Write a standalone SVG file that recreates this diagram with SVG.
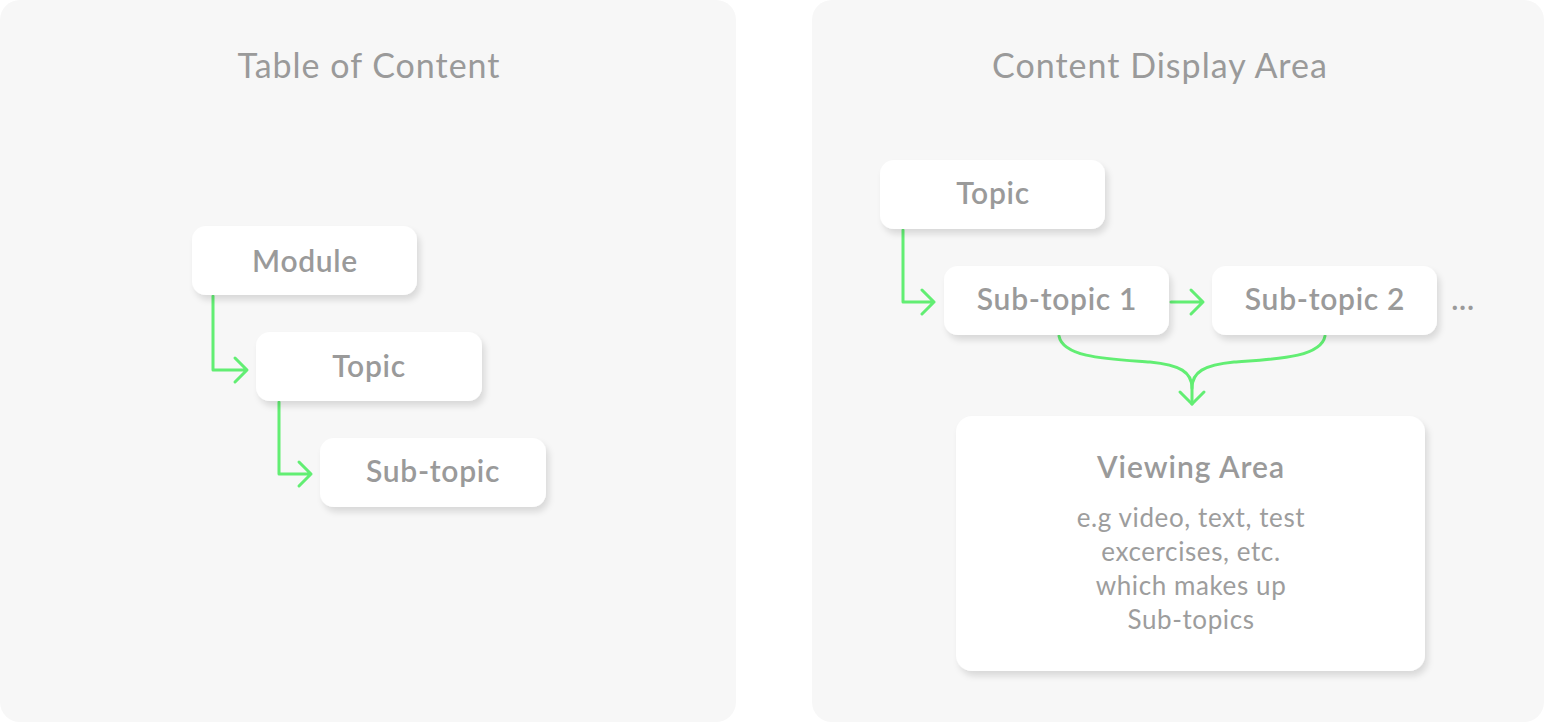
<svg xmlns="http://www.w3.org/2000/svg" width="1544" height="722" viewBox="0 0 1544 722">
<style>
.panel{fill:#f7f7f7}
.title{font-family:Lato,"Liberation Sans",sans-serif;font-size:34px;letter-spacing:1px;fill:#9a9a9a;text-anchor:middle}
.box{fill:#ffffff;filter:url(#sh)}
.lbl{font-family:Lato,"Liberation Sans",sans-serif;font-size:30px;font-weight:600;letter-spacing:0.7px;fill:#9a9a9a;text-anchor:middle}
.vt{font-size:30px;letter-spacing:1px}
.body{font-family:Lato,"Liberation Sans",sans-serif;font-size:26px;letter-spacing:0.6px;fill:#9d9d9d;text-anchor:middle}
.con{fill:none;stroke:#62ee73;stroke-width:3;stroke-linecap:round;stroke-linejoin:round}
</style>
<defs>
<filter id="sh" x="-20%" y="-20%" width="140%" height="150%">
<feDropShadow dx="3" dy="5" stdDeviation="3" flood-color="#000" flood-opacity="0.12"/>
</filter>
</defs>
<rect width="1544" height="722" fill="#ffffff"/>
<g id="panel-left">
<rect class="panel" x="0" y="0" width="736" height="722" rx="20"/>
<text class="title" x="369" y="78">Table of Content</text>
</g>
<g id="panel-right">
<rect class="panel" x="812" y="0" width="732" height="722" rx="20"/>
<text class="title" x="1160" y="78">Content Display Area</text>
</g>
<g id="connectors">
<path class="con" d="M213,296 V370 H246 M235,358 L247,370 L235,382"/>
<path class="con" d="M279,402 V474 H311 M299,462 L311,474 L299,486"/>
<path class="con" d="M903,230 V302 H934 M922,290 L934,302 L922,314"/>
<path class="con" d="M1171,302 H1203 M1191,290 L1203,302 L1191,314"/>
<path class="con" d="M1059,336 C1063,358 1110,359 1150,362 C1180,365 1192,372 1192,388 L1192,404"/>
<path class="con" d="M1325,336 C1321,358 1274,359 1234,362 C1204,365 1192,372 1192,388"/>
<path class="con" d="M1180,392 L1192,404 L1204,392"/>
</g>
<g id="node-module">
<rect class="box" x="192" y="226" width="225" height="69" rx="14"/>
<text class="lbl" x="305" y="272">Module</text>
</g>
<g id="node-topic-left">
<rect class="box" x="256" y="332" width="226" height="69" rx="14"/>
<text class="lbl" x="369" y="377">Topic</text>
</g>
<g id="node-subtopic-left">
<rect class="box" x="320" y="438" width="226" height="69" rx="14"/>
<text class="lbl" x="433" y="482">Sub-topic</text>
</g>
<g id="node-topic-right">
<rect class="box" x="880" y="160" width="225" height="69" rx="14"/>
<text class="lbl" x="993" y="204">Topic</text>
</g>
<g id="node-subtopic-1">
<rect class="box" x="944" y="266" width="225" height="69" rx="14"/>
<text class="lbl" x="1057" y="310">Sub-topic 1</text>
</g>
<g id="node-subtopic-2">
<rect class="box" x="1212" y="266" width="225" height="69" rx="14"/>
<text class="lbl" x="1325" y="310">Sub-topic 2</text>
</g>
<g id="ellipsis">
<text class="lbl" x="1463" y="310">...</text>
</g>
<g id="node-viewing-area">
<rect class="box" x="956" y="416" width="469" height="255" rx="16"/>
<text class="lbl vt" x="1191" y="478">Viewing Area</text>
<text class="body" x="1191" y="527">e.g video, text, test</text>
<text class="body" x="1191" y="561">excercises, etc.</text>
<text class="body" x="1191" y="595">which makes up</text>
<text class="body" x="1191" y="629">Sub-topics</text>
</g>
</svg>
